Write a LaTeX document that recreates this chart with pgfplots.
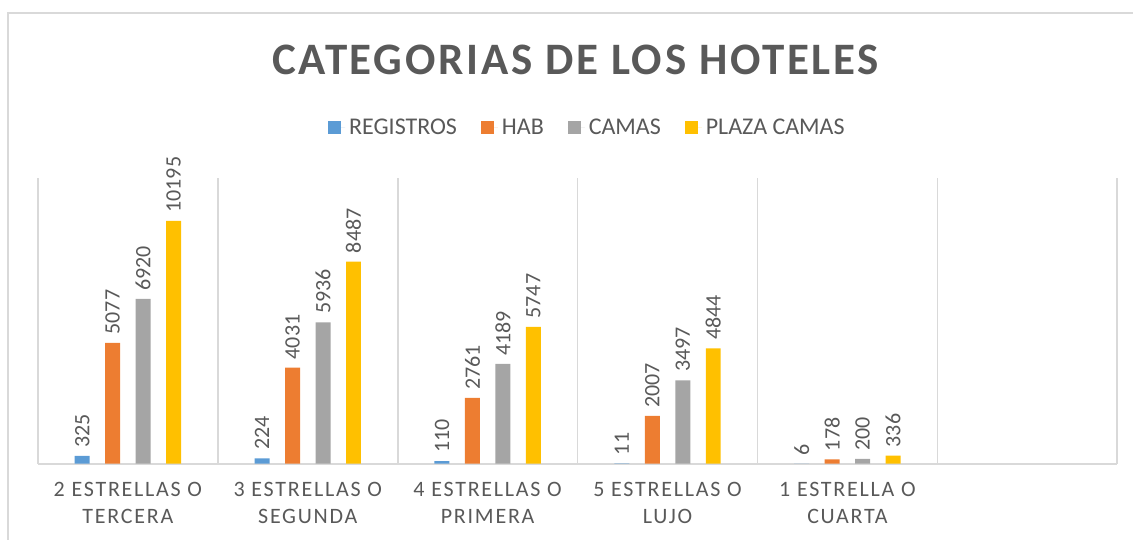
\documentclass[border=0pt]{standalone}
\usepackage{fontspec}
\setmainfont{Carlito}
\usepackage{pgfplots}
\pgfplotsset{compat=1.18}
\newfontfamily\tickfont[LetterSpace=8]{Carlito}
\newfontfamily\titlefont[LetterSpace=6]{Carlito}
\definecolor{cblue}{HTML}{5B9BD5}
\definecolor{corange}{HTML}{ED7D31}
\definecolor{cgrey}{HTML}{A5A5A5}
\definecolor{cgold}{HTML}{FFC000}
\definecolor{txt}{HTML}{595959}
\definecolor{gridc}{HTML}{D9D9D9}
\begin{document}
\begin{tikzpicture}[x=1pt,y=1pt]
\path (0,0) rectangle (567,270);
\draw[gridc, line width=0.8pt] (4,0) -- (4,263.5) -- (567,263.5);
\node[font=\titlefont\bfseries\fontsize{22.5}{27}\selectfont, text=txt] at (288,240) {CATEGORIAS DE LOS HOTELES};
\begin{axis}[
  at={(19pt,38pt)}, anchor=south west,
  scale only axis, width=540pt, height=143pt,
  ymin=0, ymax=12000,
  xmin=-0.5, xmax=5.5,
  ybar=7.75pt, bar width=7.5pt,
  axis line style={draw=none},
  ytick=\empty,
  xtick={0,1,2,3,4},
  xticklabels={{2 ESTRELLAS O\\TERCERA},{3 ESTRELLAS O\\SEGUNDA},{4 ESTRELLAS O\\PRIMERA},{5 ESTRELLAS O\\LUJO},{1 ESTRELLA O\\CUARTA}},
  x tick label style={align=center, font=\tickfont\fontsize{11}{13.5}\selectfont, text=txt, yshift=-6pt},
  major tick length=0pt, minor tick length=0pt,
  minor xtick={-0.5,0.5,...,5.5},
  xminorgrids, minor grid style={gridc, line width=0.8pt},
  extra y ticks={0}, extra y tick labels={}, extra y tick style={grid=major, major grid style={gridc, line width=1pt}},
  nodes near coords,
  every node near coord/.append style={rotate=90, anchor=west, font=\fontsize{11}{13}\selectfont, text=txt, inner sep=4pt},
  /pgf/number format/1000 sep={},
  /pgf/number format/assume math mode=true,
  legend columns=4,
  legend style={draw=none, at={(0.51,1.175)}, anchor=center, font=\fontsize{12}{14}\selectfont, text=txt,
    /tikz/every even column/.append style={column sep=10pt}},
  legend image code/.code={\fill[#1] (0pt,-3.2pt) rectangle (6.5pt,3.2pt); \path (0pt,0pt) -- (8.5pt,0pt);},
  clip=false,
]
\addplot[fill=cblue, draw=none] coordinates {(0,325) (1,224) (2,110) (3,11) (4,6)};
\addplot[fill=corange, draw=none] coordinates {(0,5077) (1,4031) (2,2761) (3,2007) (4,178)};
\addplot[fill=cgrey, draw=none] coordinates {(0,6920) (1,5936) (2,4189) (3,3497) (4,200)};
\addplot[fill=cgold, draw=none] coordinates {(0,10195) (1,8487) (2,5747) (3,4844) (4,336)};
\legend{REGISTROS, HAB, CAMAS, PLAZA CAMAS}
\end{axis}
\end{tikzpicture}
\end{document}
